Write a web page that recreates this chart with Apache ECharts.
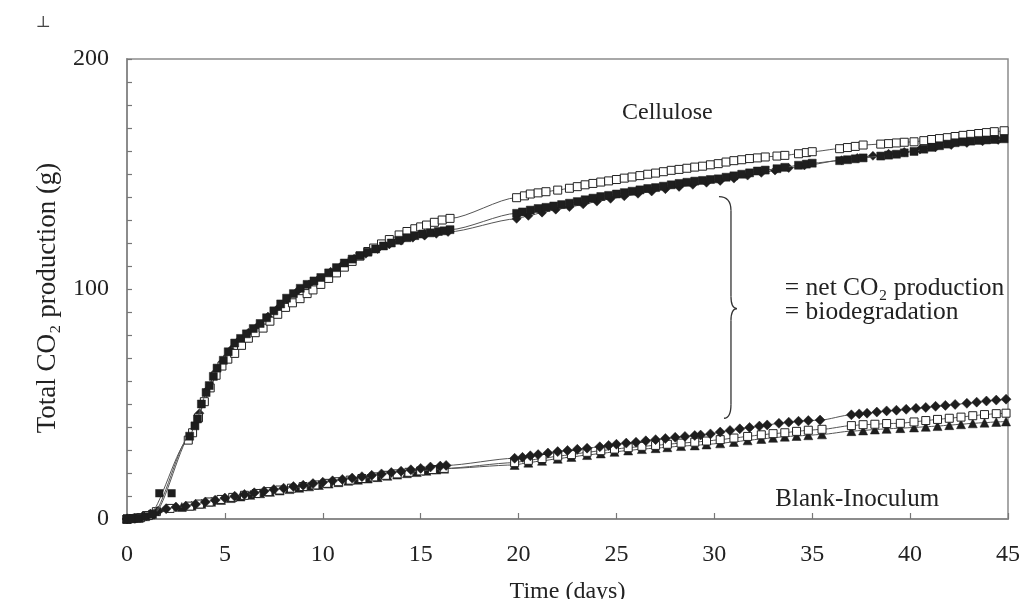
<!DOCTYPE html>
<html><head><meta charset="utf-8">
<script src="https://cdn.jsdelivr.net/npm/echarts@6/dist/echarts.min.js"></script>
<style>html,body{margin:0;padding:0;background:#fff;overflow:hidden}#c{width:1022px;height:599px}</style>
</head><body><div id="c"></div>
<script>
// ---- data (day, total CO2 g) ----
const xTicks = [0, 5, 10, 15, 20, 25, 30, 35, 40, 45];
const yTicks = [0, 100, 200];

const celluloseOpen = [[0,0],[0.3,0.2],[0.7,0.6],[1.1,1.5],[3.13,34.3],[3.35,37.5],[3.65,44],[3.95,51],[4.25,57],[4.55,62.5],[4.85,66.5],[5.15,69.5],[5.5,72],[5.85,75.5],[6.2,78.6],[6.55,81],[6.95,83],[7.3,86],[7.7,89],[8.1,92],[8.45,94],[8.84,95.8],[9.2,98],[9.5,99.6],[9.9,102],[10.3,104.6],[10.7,107],[11.1,109.5],[11.5,112],[11.9,114.3],[12.3,116.3],[12.6,117.8],[13.0,119.6],[13.4,121.5],[13.9,123.5],[14.3,125],[14.7,126.2],[15.0,127],[15.3,127.8],[15.7,129],[16.1,130],[16.5,130.7],
[19.9,139.7],[20.3,140.5],[20.6,141.3],[21.0,141.8],[21.4,142.3],[22.0,143],[22.6,143.8],[23.0,144.5],[23.4,145.3],[23.8,145.9],[24.2,146.5],[24.6,147],[25.0,147.6],[25.4,148.2],[25.8,148.7],[26.2,149.3],[26.6,149.9],[27.0,150.4],[27.4,151],[27.8,151.6],[28.2,152],[28.6,152.5],[29.0,153],[29.4,153.4],[29.8,154],[30.2,154.5],[30.6,155.2],[31.0,155.8],[31.4,156.2],[31.8,156.7],[32.2,157],[32.6,157.4],[33.2,157.8],[33.6,158.1],[34.3,158.8],[34.7,159.3],[35.0,159.7],[36.4,161],[36.8,161.5],[37.2,162],[37.6,162.6],[38.5,163],[38.9,163.2],[39.3,163.5],[39.7,163.8],[40.2,164],[40.7,164.5],[41.1,165],[41.5,165.4],[41.9,165.8],[42.3,166.3],[42.7,166.8],[43.1,167.2],[43.5,167.6],[43.9,168],[44.3,168.4],[44.8,168.8]];

const celluloseFilled = [[0,0],[0.25,0.1],[0.6,0.4],[0.95,1],[1.3,2],[3.2,36],[3.47,40.5],[3.6,43.5],[3.8,50],[4.04,55],[4.2,58],[4.41,62],[4.6,65.6],[4.92,69],[5.17,72.7],[5.5,76.5],[5.8,78.5],[6.1,80.5],[6.45,82.8],[6.8,85],[7.13,87.5],[7.5,90.5],[7.85,93.5],[8.15,96],[8.5,98],[8.85,100.3],[9.2,102],[9.55,103.5],[9.9,105],[10.3,107],[10.7,109.3],[11.1,111.3],[11.5,113],[11.9,114.5],[12.3,116],[12.7,117.4],[13.1,118.7],[13.5,120],[13.9,121.2],[14.3,122.3],[14.7,123.2],[15.1,123.9],[15.5,124.4],[15.9,125],[16.2,125.3],[16.5,125.8],
[19.9,132.9],[20.2,133.5],[20.6,134.3],[21.0,135],[21.4,135.5],[21.8,136.1],[22.2,136.7],[22.6,137.3],[23.0,138],[23.4,138.8],[23.8,139.5],[24.2,140.2],[24.6,140.7],[25.0,141.3],[25.4,141.9],[25.8,142.5],[26.2,143.1],[26.6,143.7],[27.0,144.1],[27.4,144.7],[27.8,145.3],[28.2,145.9],[28.6,146.4],[29.0,146.9],[29.4,147.2],[29.8,147.6],[30.2,147.9],[30.6,148.6],[31.0,149.2],[31.4,149.9],[31.8,150.5],[32.2,151.3],[32.6,151.7],[33.2,152.3],[33.6,152.9],[34.3,153.8],[34.7,154.3],[35.0,154.7],[36.4,155.8],[36.8,156.2],[37.2,156.6],[37.6,157],[38.5,157.8],[38.9,158.2],[39.3,158.6],[39.7,159.2],[40.2,159.8],[40.7,160.8],[41.1,161.6],[41.5,162.3],[41.9,163],[42.3,163.6],[42.7,164],[43.1,164.3],[43.5,164.6],[43.9,164.8],[44.3,165],[44.8,165.3]];

const celluloseFilledOutliers = [[1.65,11.2],[2.28,11.2]];

const celluloseThird = [[0,0],[0.5,0.3],[1.0,1.2],[1.4,2.5],[3.3,37],[3.7,46],[4.1,56],[4.5,63.5],[4.9,68.5],[5.3,73.5],[5.7,77.5],[6.2,81],[6.7,84],[7.2,88],[7.7,91.5],[8.2,95],[8.7,99],[9.3,102],[9.8,104.5],[10.4,107.5],[11.0,110.5],[11.6,113.2],[12.2,115.3],[12.8,117.4],[13.4,119.4],[14.0,121],[14.6,122.3],[15.2,123.2],[15.8,124],[16.4,124.8],
[19.9,130.5],[20.5,131.8],[21.2,133.2],[21.9,134.5],[22.6,135.6],[23.3,136.8],[24.0,138],[24.7,139.2],[25.4,140.3],[26.1,141.4],[26.8,142.4],[27.5,143.4],[28.2,144.4],[28.9,145.3],[29.6,146.2],[30.3,147],[31.0,148],[31.7,149.3],[32.4,150.5],[33.1,151.5],[33.8,152.6],[34.6,153.7],[36.5,156],[37.3,157],[38.1,157.9],[38.9,158.8],[39.7,159.6],[40.5,160.6],[41.3,161.6],[42.1,162.6],[42.9,163.5],[43.7,164.2],[44.5,164.8]];

const blankDiamond = [[0,0],[0.4,0.3],[0.8,1],[1.2,2.2],[1.6,3.5],[2.0,4.5],[2.5,5.2],[3.0,5.6],[3.5,6.4],[4.0,7.4],[4.5,8.2],[5.0,9.1],[5.5,9.9],[6.0,10.7],[6.5,11.4],[7.0,12.1],[7.5,12.8],[8.0,13.4],[8.5,14.1],[9.0,14.7],[9.5,15.4],[10.0,16],[10.5,16.6],[11.0,17.2],[11.5,17.8],[12.0,18.4],[12.5,19],[13.0,19.6],[13.5,20.2],[14.0,20.8],[14.5,21.4],[15.0,22],[15.5,22.6],[16.0,23],[16.3,23.3],
[19.8,26.4],[20.2,26.8],[20.6,27.5],[21.0,28],[21.5,28.7],[22.0,29.3],[22.5,29.8],[23.0,30.3],[23.5,30.8],[24.15,31.4],[24.6,32],[25.0,32.5],[25.5,33],[26.0,33.4],[26.5,34],[27.0,34.5],[27.5,35],[28.0,35.5],[28.5,35.9],[29.0,36.3],[29.3,36.5],[29.8,37],[30.3,37.8],[30.8,38.5],[31.3,39.2],[31.8,39.8],[32.3,40.4],[32.7,40.9],[33.3,41.6],[33.8,42.1],[34.3,42.5],[34.8,42.8],[35.4,43],[37.0,45.3],[37.4,45.7],[37.8,46],[38.3,46.5],[38.8,47],[39.3,47.3],[39.8,47.7],[40.3,48.1],[40.8,48.5],[41.3,49],[41.8,49.4],[42.3,49.8],[42.9,50.3],[43.4,50.8],[43.9,51.3],[44.4,51.7],[44.9,52.1]];

const blankSquare = [[0,0],[0.5,0.4],[1.0,1.5],[1.5,3.2],[2.2,4.6],[3.2,5.6],[3.7,6.5],[4.2,7.4],[4.8,8.5],[5.4,9.4],[6.0,10.3],[6.6,11.1],[7.2,11.9],[7.8,12.6],[8.4,13.4],[9.0,14.1],[9.6,14.8],[10.2,15.5],[10.8,16.2],[11.4,16.9],[12.0,17.6],[12.6,18.3],[13.2,19],[13.8,19.6],[14.4,20.3],[15.0,20.9],[15.6,21.5],[16.2,22],
[19.8,24.5],[20.5,25.5],[21.2,26.3],[22.0,27.3],[22.7,28],[23.5,29],[24.2,29.7],[24.9,30.4],[25.6,31],[26.3,31.6],[27.0,32],[27.6,32.5],[28.3,33],[29.0,33.4],[29.6,33.9],[30.3,34.5],[31.0,35.2],[31.7,35.9],[32.4,36.6],[33.0,37.1],[33.6,37.5],[34.2,38.1],[34.8,38.6],[35.5,39],[37.0,40.6],[37.6,41],[38.2,41.2],[38.8,41.5],[39.5,41.6],[40.2,42.2],[40.8,42.8],[41.4,43.3],[42.0,43.8],[42.6,44.3],[43.2,44.9],[43.8,45.4],[44.4,45.8],[44.9,46]];

const blankTriangle = [[0,0],[0.6,0.5],[1.2,2],[2.8,5.2],[3.3,5.8],[3.8,6.6],[4.3,7.5],[4.8,8.3],[5.3,9.1],[5.8,9.8],[6.3,10.5],[6.8,11.2],[7.3,11.8],[7.8,12.4],[8.3,13],[8.8,13.6],[9.3,14.2],[9.8,14.8],[10.3,15.4],[10.8,16],[11.3,16.6],[11.8,17.1],[12.3,17.6],[12.8,18.2],[13.3,18.8],[13.8,19.3],[14.3,19.9],[14.8,20.4],[15.3,21],[15.8,21.5],[16.2,21.9],
[19.8,23.5],[20.5,24.5],[21.2,25.3],[22.0,26.2],[22.7,27],[23.5,27.8],[24.2,28.5],[24.9,29.2],[25.6,29.8],[26.3,30.4],[27.0,30.8],[27.6,31.2],[28.3,31.7],[29.0,32],[29.6,32.4],[30.3,32.9],[31.0,33.5],[31.7,34.2],[32.4,34.8],[33.0,35.3],[33.6,35.8],[34.2,36.1],[34.8,36.4],[35.5,36.8],[37.0,38.2],[37.6,38.5],[38.2,38.9],[38.8,39.2],[39.5,39.5],[40.2,39.8],[40.8,40.1],[41.4,40.4],[42.0,40.8],[42.6,41.2],[43.2,41.6],[43.8,41.9],[44.4,42.2],[44.9,42.4]];

const labels = {
  cellulose: 'Cellulose',
  net1: '= net CO\u2082 production',
  net2: '= biodegradation',
  blank: 'Blank-Inoculum',
  xName: 'Time (days)',
  yName: 'Total CO\u2082 production (g)'
};

// ---- chart ----
const FONT = '"Liberation Serif","DejaVu Serif",serif';
const INK = '#1e1e1e';
const chart = echarts.init(document.getElementById('c'), null, {renderer: 'canvas'});

function lineSeries(name, data, symbol, size, filled, z) {
  return {
    name, type: 'line', data, symbol, symbolSize: size, showSymbol: true,
    smooth: 0.25, smoothMonotone: 'x',
    lineStyle: {color: '#555', width: 1},
    itemStyle: filled ? {color: INK, borderColor: INK, borderWidth: 0.5, opacity: 1}
                      : {color: '#fff', borderColor: '#222', borderWidth: 1, opacity: 1},
    emphasis: {disabled: true}, animation: false, z
  };
}

const axisLineStyle = {color: '#8c8c8c', width: 2};
const labelStyle = {fontFamily: FONT, fontSize: 24, color: '#222'};

chart.setOption({
  backgroundColor: '#fff',
  animation: false,
  grid: {left: 127, right: 14, top: 59, bottom: 80, show: true, borderColor: '#8c8c8c', borderWidth: 1.5,
         containLabel: false, outerBoundsMode: 'none'},
  xAxis: {
    type: 'value', min: xTicks[0], max: xTicks[xTicks.length - 1], interval: 5,
    axisLine: {show: true, lineStyle: axisLineStyle},
    axisTick: {show: true, inside: true, length: 6, lineStyle: {color: '#777', width: 1.2}},
    axisLabel: Object.assign({margin: 24}, labelStyle),
    splitLine: {show: false},
    name: labels.xName, nameLocation: 'middle', nameGap: 61,
    nameTextStyle: labelStyle
  },
  yAxis: {
    type: 'value', min: yTicks[0], max: yTicks[yTicks.length - 1], interval: 100,
    axisLine: {show: true, lineStyle: axisLineStyle},
    axisTick: {show: true, inside: true, length: 5, lineStyle: {color: '#777', width: 1.2}},
    minorTick: {show: true, splitNumber: 10, length: 5, lineStyle: {color: '#777', width: 1.2}},
    axisLabel: Object.assign({margin: 18}, labelStyle),
    splitLine: {show: false},
    name: labels.yName, nameLocation: 'middle', nameGap: 66, nameRotate: 90,
    nameTextStyle: Object.assign({}, labelStyle, {fontSize: 27, padding: [0, 18, 0, 0]})
  },
  series: [
    lineSeries('Blank triangles', blankTriangle, 'triangle', 9, true, 2),
    lineSeries('Blank open squares', blankSquare, 'rect', 8, false, 3),
    lineSeries('Blank diamonds', blankDiamond, 'diamond', 10, true, 4),
    lineSeries('Cellulose 3', celluloseThird, 'diamond', 9, true, 5),
    lineSeries('Cellulose open', celluloseOpen, 'rect', 8, false, 6),
    lineSeries('Cellulose filled', celluloseFilled, 'rect', 8, true, 7),
    {name: 'Cellulose filled (outliers)', type: 'scatter', data: celluloseFilledOutliers,
     symbol: 'rect', symbolSize: 8, itemStyle: {color: INK, opacity: 1}, z: 7, animation: false}
  ]
});

function px(d, v) { return chart.convertToPixel({xAxisIndex: 0, yAxisIndex: 0}, [d, v]); }

function drawAnnotations() {
  const c = px(27.6, 176.5);
  const n1 = px(33.6, 100.2);
  const n2 = px(33.6, 89.7);
  const b = px(37.3, 8.3);
  const x0 = px(30.85, 0)[0];
  const yT = px(0, 140.2)[1], yB = px(0, 43.8)[1], yM = px(0, 91.5)[1];
  const braceStyle = {fill: 'none', stroke: '#333', lineWidth: 1.3};
  const q = (x1, y1, cx, cy, x2, y2) => ({type: 'bezierCurve', silent: true,
    shape: {x1, y1, x2, y2, cpx1: cx, cpy1: cy}, style: braceStyle});
  const ln = (x1, y1, x2, y2) => ({type: 'line', silent: true, shape: {x1, y1, x2, y2}, style: braceStyle});
  const ts = (x, y, text, align, size) => ({type: 'text', x, y, silent: true,
    style: {text, fontFamily: FONT, fontSize: size || 24, fill: '#222', align: align || 'center', verticalAlign: 'middle'}});
  chart.setOption({graphic: [
    ts(c[0], c[1], labels.cellulose, 'center', 24),
    ts(n1[0], n1[1], labels.net1, 'left', 25.5),
    ts(n2[0], n2[1], labels.net2, 'left', 25.5),
    ts(b[0], b[1], labels.blank, 'center', 25),
    q(x0 - 12, yT, x0, yT, x0, yT + 14),
    ln(x0, yT + 14, x0, yM - 12),
    q(x0, yM - 12, x0, yM, x0 + 6, yM),
    q(x0 + 6, yM, x0, yM, x0, yM + 12),
    ln(x0, yM + 12, x0, yB - 14),
    q(x0, yB - 14, x0, yB, x0 - 7, yB),
    {type: 'text', x: 43, y: 23, silent: true,
     style: {text: '\u22A5', fontFamily: FONT, fontSize: 16, fill: '#444', align: 'center', verticalAlign: 'middle'}}
  ]});
}
drawAnnotations();
</script>
</body></html>
